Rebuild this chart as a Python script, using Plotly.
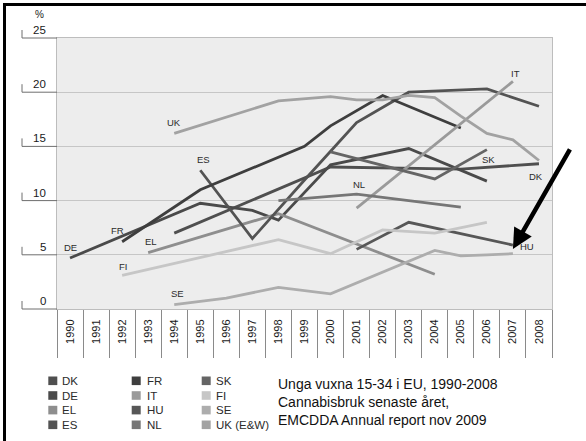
import plotly.graph_objects as go

# ---------------- data ----------------
years = ["1990", "1991", "1992", "1993", "1994", "1995", "1996", "1997", "1998", "1999",
         "2000", "2001", "2002", "2003", "2004", "2005", "2006", "2007", "2008"]

DK = [None, None, None, None, 7.0, None, None, None, None, None, 13.1, None, None, None, None, 12.9, None, None, 13.4]
DE = [4.7, None, None, None, None, 9.75, None, 9.1, 8.2, None, 13.3, None, None, 14.8, None, None, 11.8, None, None]
EL = [None, None, None, 5.2, None, None, None, None, 8.8, None, None, None, None, None, 3.2, None, None, None, None]
ES = [None, None, None, None, None, 12.8, None, 6.5, None, 11.9, None, 17.2, None, 20.0, None, None, 20.3, None, 18.7]
FR = [None, None, 6.2, None, None, 11.0, None, None, None, 15.0, 16.9, None, 19.7, None, None, 16.7, None, None, None]
IT = [None, None, None, None, None, None, None, None, None, None, None, 9.3, None, None, None, None, None, 21.0, None]
HU = [None, None, None, None, None, None, None, None, None, None, None, 5.5, None, 8.0, None, None, None, 5.9, None]
NL = [None, None, None, None, None, None, None, None, 10.0, None, None, 10.6, None, None, None, 9.4, None, None, None]
SK = [None, None, None, None, None, None, None, None, None, None, 14.5, None, None, None, 12.0, None, 14.7, None, None]
FI = [None, None, 3.1, None, None, None, None, None, 6.4, None, 5.1, None, 7.3, None, 7.0, None, 8.0, None, None]
SE = [None, None, None, None, 0.4, None, 1.0, None, 2.0, None, 1.4, None, None, None, 5.4, 4.9, 5.0, 5.1, None]
UK = [None, None, None, None, 16.2, None, 17.7, None, 19.2, None, 19.6, 19.3, 19.3, 19.7, 19.5, 17.8, 16.2, 15.6, 13.7]

series_names = ["DK", "DE", "EL", "ES", "FR", "IT", "HU", "NL", "SK", "FI", "SE", "UK (E&W)"]
series_values = [DK, DE, EL, ES, FR, IT, HU, NL, SK, FI, SE, UK]
short_labels = ["DK", "DE", "EL", "ES", "FR", "IT", "HU", "NL", "SK", "FI", "SE", "UK"]

y_ticks = [0, 5, 10, 15, 20, 25]
y_unit = "%"
caption = ["Unga vuxna 15-34 i EU, 1990-2008", "Cannabisbruk senaste året,", "EMCDDA Annual report nov 2009"]

# ---------------- style ----------------
colors = {"DK": "#4f4f4f", "DE": "#4a4a4a", "EL": "#8e8e8e", "ES": "#535353", "FR": "#3e3e3e",
          "IT": "#9a9a9a", "HU": "#575757", "NL": "#767676", "SK": "#656565", "FI": "#c6c6c6",
          "SE": "#adadad", "UK (E&W)": "#a2a2a2"}
FONT = "Arial, Liberation Sans, sans-serif"

# layout geometry (pixels)
W_FIG, H_FIG = 586, 441
L, R, T, B = 57, 34, 38, 132
PW, PH = W_FIG - L - R, H_FIG - T - B
Y_MAX = y_ticks[-1]


def px_x(p):
    return (p - L) / PW


def px_y(p):
    return (H_FIG - B - p) / PH


fig = go.Figure()

for name, vals in zip(series_names, series_values):
    fig.add_trace(go.Scatter(x=years, y=vals, mode="lines", name=name, connectgaps=True,
                             line=dict(color=colors[name], width=2.8), showlegend=False,
                             hoverinfo="skip"))

annotations = []
shapes = []

# in-chart series labels: (which point, xshift, yshift)
label_spec = {"DE": ("first", 0, 11), "FR": ("first", -5, 11), "EL": ("first", 3, 11),
              "FI": ("first", 1, 9), "SE": ("first", 3, 11), "ES": ("first", 3, 11),
              "UK (E&W)": ("first", 0, 11), "NL": (11, 2, 10), "IT": ("last", 3, 8),
              "SK": ("last", 2, -10), "DK": ("last", -3, -13), "HU": ("last", 14, -1)}
for name, vals, short in zip(series_names, series_values, short_labels):
    where, dx, dy = label_spec[name]
    idxs = [i for i, v in enumerate(vals) if v is not None]
    if where == "first":
        i = idxs[0]
    elif where == "last":
        i = idxs[-1]
    else:
        i = where
    annotations.append(dict(x=i, y=vals[i], xref="x", yref="y", text=short,
                            showarrow=False, xshift=dx, yshift=dy,
                            font=dict(family=FONT, size=9.5, color="#2b2b2b")))

# arrow pointing at HU 2007
hu_last = [i for i, v in enumerate(HU) if v is not None][-1]
annotations.append(dict(x=hu_last, y=HU[hu_last], xref="x", yref="y", text=" ",
                        showarrow=True, arrowhead=2, arrowsize=0.9, arrowwidth=4.5,
                        arrowcolor="black", ax=60, ay=-105, yshift=-4))

# y tick labels with bracket ticks
stub = 8 / PH
for v in y_ticks:
    yp = v / Y_MAX
    annotations.append(dict(x=px_x(47.5), y=yp, xref="paper", yref="paper", text=str(v),
                            showarrow=False, xanchor="right", yanchor="bottom", yshift=0,
                            font=dict(family=FONT, size=11.5, color="#1a1a1a")))
    shapes.append(dict(type="line", xref="paper", yref="paper", x0=px_x(22), x1=0, y0=yp, y1=yp,
                       line=dict(color="#6e6e6e", width=1)))
    shapes.append(dict(type="line", xref="paper", yref="paper", x0=px_x(22), x1=px_x(22),
                       y0=yp, y1=yp + stub, line=dict(color="#6e6e6e", width=1)))
annotations.append(dict(x=px_x(39), y=px_y(14), xref="paper", yref="paper", text=y_unit,
                        showarrow=False, xanchor="center", yanchor="middle", yshift=0,
                        font=dict(family=FONT, size=10, color="#1a1a1a")))

# manual legend (3 columns x 4 rows)
col_sq = [48.3, 131.7, 201.7]
col_tx = [60, 145, 214]
row_y = [380.8, 395.5, 410.1, 424.8]
for k, name in enumerate(series_names):
    c, r = k // 4, k % 4
    shapes.append(dict(type="rect", xref="paper", yref="paper",
                       x0=px_x(col_sq[c]), x1=px_x(col_sq[c] + 9),
                       y0=px_y(row_y[r] + 4.3), y1=px_y(row_y[r] - 4.3),
                       line=dict(width=0), fillcolor=colors[name]))
    annotations.append(dict(x=px_x(col_tx[c]), y=px_y(row_y[r]), xref="paper", yref="paper",
                            text=name, showarrow=False, xanchor="left", yanchor="middle",
                            font=dict(family=FONT, size=11.5, color="#2b2b2b")))

# caption
annotations.append(dict(x=px_x(276), y=px_y(402), xref="paper", yref="paper",
                        text="<br>".join(caption), showarrow=False, xanchor="left",
                        yanchor="middle", align="left",
                        font=dict(family=FONT, size=14, color="#111111")))

# outer frame (top and left visible)
shapes.append(dict(type="line", xref="paper", yref="paper", x0=px_x(4.5), x1=px_x(600),
                   y0=px_y(4.5), y1=px_y(4.5), line=dict(color="black", width=3)))
shapes.append(dict(type="line", xref="paper", yref="paper", x0=px_x(4.5), x1=px_x(4.5),
                   y0=px_y(3), y1=px_y(460), line=dict(color="black", width=3)))

fig.update_layout(
    template="none",
    width=W_FIG, height=H_FIG,
    margin=dict(l=L, r=R, t=T, b=B, pad=0),
    paper_bgcolor="white", plot_bgcolor="#ededed",
    font=dict(family=FONT, color="#1a1a1a"),
    showlegend=False,
    annotations=annotations, shapes=shapes,
    xaxis=dict(type="category", categoryorder="array", categoryarray=years,
               range=[-0.5, len(years) - 0.5], showgrid=False, zeroline=False,
               ticks="outside", tickson="boundaries", ticklen=48, tickwidth=1,
               tickcolor="#8a8a8a", tickangle=-90, ticklabelstandoff=5,
               tickfont=dict(family=FONT, size=11, color="#1a1a1a"),
               showline=True, linecolor="#bdbdbd", linewidth=1, mirror=True),
    yaxis=dict(range=[0, Y_MAX], dtick=5, showgrid=True, gridcolor="#c6c6c6", gridwidth=1,
               zeroline=False, showticklabels=False, ticks="",
               showline=True, linecolor="#bdbdbd", linewidth=1, mirror=True),
)

fig.write_html("out.html", config={"displayModeBar": False},
               post_script="document.body.style.margin='0';document.body.style.padding='0';")
